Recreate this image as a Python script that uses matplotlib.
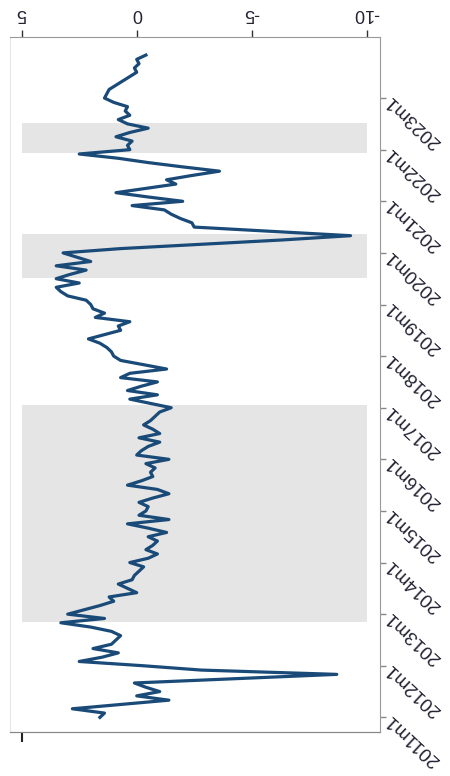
import numpy as np
import pandas as pd
import matplotlib
matplotlib.use("Agg")
from matplotlib import pyplot as plt

plt.rcParams['font.family'] = ['Liberation Sans', 'DejaVu Sans']

# monthly series, 2011m1 .. 2023m11
values = [
    1.6, 1.4, 2.8, 0.7, -1.4, 0.0, -1.0, -0.4, 0.1, -4.3,
    -8.7, -2.8, -0.3, 2.5, 1.5, 0.8, 1.9, 1.1, 0.9, 0.7,
    1.1, 2.0, 3.3, 1.4, 3.0, 2.3, 1.6, 1.0, 1.2, 0.0,
    0.4, 0.8, 0.2, 0.1, -0.1, -0.3, 0.3, -0.5, -0.9, -0.4,
    -0.7, -0.9, -0.5, -1.3, -0.5, 0.4, -1.4, -0.1, -0.4, -0.5,
    -0.1, -0.7, -1.4, -0.9, 0.4, -0.2, -0.7, -0.6, -0.8, -0.4,
    -1.4, 0.0, -0.2, -0.5, -1.0, -0.1, -1.0, -0.7, -0.3, -0.6,
    -0.8, -1.0, -1.5, -0.6, 0.3, -0.9, 0.4, -0.2, -0.9, 0.7,
    0.3, -1.3, -0.3, 0.7, 1.0, 1.1, 1.3, 1.6, 2.1, 1.4,
    0.7, 0.8, 0.3, 1.8, 1.4, 1.9, 2.0, 2.2, 3.0, 3.3,
    3.5, 2.5, 3.5, 2.9, 2.2, 3.5, 2.0, 2.6, 3.2, 0.7,
    -2.8, -6.3, -9.3, -5.9, -2.5, -2.4, -1.9, -1.5, -1.2, 0.2,
    -2.0, -0.5, 0.9, -0.4, -1.7, -1.3, -2.4, -3.6, -2.0, -0.5,
    0.8, 2.5, 0.3, 0.4, 0.2, 0.9, 0.3, -0.5, 0.4, 0.8,
    0.3, 0.5, 0.4, 1.0, 1.4, 1.3, 1.2, 0.9, 0.6, 0.3,
    0.0, 0.1, -0.1, 0.0, -0.4,
]
dates = pd.period_range('2011-01', periods=len(values), freq='M')

# shaded periods, in months since 2011m1
band_start = [22.2, 102.2, 131.3]
band_end = [72.6, 112.3, 138.2]

year_labels = ['2011m1', '2012m1', '2013m1', '2014m1', '2015m1', '2016m1', '2017m1',
               '2018m1', '2019m1', '2020m1', '2021m1', '2022m1', '2023m1']
value_ticks = [5, 0, -5, -10]

t = np.arange(len(dates))

fig = plt.figure(figsize=(4.5, 7.76), dpi=100)
ax = fig.add_axes([10/450, 44/776, 370/450, 695/776])

for s, e in zip(band_start, band_end):
    ax.fill_betweenx([s, e], 5, -10, color='#e5e5e5', lw=0, zorder=1)

ax.plot(values, t, color='#1a4a78', lw=2.3, zorder=3, solid_joinstyle='round')

ax.set_xlim(5.51, -10.58)
ax.set_ylim(-3.4, 158.2)

ax.xaxis.tick_top()
ax.set_xticks(value_ticks)
ax.set_xticklabels([str(v) for v in value_ticks])
ax.tick_params(axis='x', top=True, bottom=False, labeltop=True, labelbottom=False,
               length=5, width=1, color='#333333', pad=6, labelsize=13,
               labelcolor='#222233', labelrotation=180)

ax.yaxis.tick_right()
ax.set_yticks(np.arange(0, 12 * len(year_labels), 12))
ax.set_yticklabels(year_labels)
ax.tick_params(axis='y', right=True, left=False, labelright=True, labelleft=False,
               length=4, width=1, color='#888888', pad=2, labelsize=13.5,
               labelcolor='#222233')
for lab in ax.get_yticklabels():
    lab.set_rotation(137)
    lab.set_rotation_mode('anchor')
    lab.set_ha('right')
    lab.set_va('center')

ax.spines['top'].set_color('#999999')
ax.spines['right'].set_color('#999999')
ax.spines['bottom'].set_color('#888888')
ax.spines['left'].set_color('#e6e6e6')

# lone tick under the frame
sec = ax.secondary_xaxis('bottom')
sec.set_xticks([5])
sec.set_xticklabels([''])
sec.tick_params(length=7, width=1.5, color='#222222')
sec.spines['bottom'].set_color('#888888')

fig.savefig('out.png', dpi=100)
